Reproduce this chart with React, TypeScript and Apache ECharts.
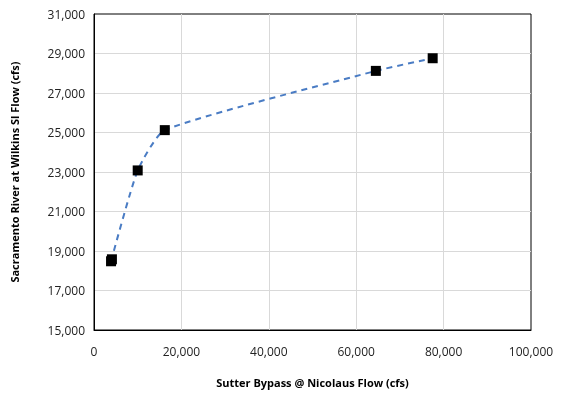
import React, { useEffect, useRef } from "react";
import * as echarts from "echarts";

const bypassFlow = [3900, 4100, 10000, 16200, 64500, 77500];
const wilkinsFlow = [18480, 18580, 23080, 25120, 28120, 28760];
const xTicksMax = 100000;
const yMin = 15000;
const yMax = 31000;

const fmt = (v: number) => v.toLocaleString("en-US");

export default function App() {
  const ref = useRef<HTMLDivElement>(null);
  useEffect(() => {
    if (!ref.current) return;
    const chart = echarts.init(ref.current, null, { renderer: "svg" });
    const pts = bypassFlow.map((x, i) => [x, wilkinsFlow[i]]);
    const linePts = [pts[0], ...pts.slice(2)];
    chart.setOption({
      animation: false,
      textStyle: { fontFamily: "Open Sans, Liberation Sans, sans-serif" },
      grid: {
        left: 94,
        right: 36,
        top: 14,
        bottom: 71,
        show: true,
        borderColor: "#000",
        borderWidth: 1,
      },
      xAxis: {
        type: "value",
        min: 0,
        max: xTicksMax,
        interval: 20000,
        name: "Sutter Bypass @ Nicolaus Flow (cfs)",
        nameLocation: "middle",
        nameGap: 47,
        nameTextStyle: { fontWeight: "bold", fontSize: 11, color: "#000" },
        axisLine: { show: true, lineStyle: { color: "#000" } },
        axisTick: { show: false },
        axisLabel: { formatter: fmt, fontSize: 12, color: "#222", margin: 15 },
        splitLine: { show: true, showMinLine: false, showMaxLine: false, lineStyle: { color: "#d9d9d9" } },
      },
      yAxis: {
        type: "value",
        min: yMin,
        max: yMax,
        interval: 2000,
        name: "Sacramento River at Wilkins Sl Flow (cfs)",
        nameLocation: "middle",
        nameGap: 74,
        nameTextStyle: { fontWeight: "bold", fontSize: 11, color: "#000" },
        axisLine: { show: true, lineStyle: { color: "#000" } },
        axisTick: { show: false },
        axisLabel: { formatter: fmt, fontSize: 12, color: "#222", margin: 9 },
        splitLine: { show: true, showMinLine: false, showMaxLine: false, lineStyle: { color: "#d9d9d9" } },
      },
      series: [
        {
          type: "line",
          data: linePts,
          smooth: 0.18,
          showSymbol: false,
          symbol: "none",
          lineStyle: { color: "#4a7cc4", width: 2, type: [6, 5] },
          z: 2,
        },
        {
          type: "scatter",
          data: pts,
          symbol: "rect",
          symbolSize: 10,
          itemStyle: { color: "#000", opacity: 1 },
          z: 3,
        },
      ],
    });
    return () => chart.dispose();
  }, []);
  return (
    <div
      ref={ref}
      style={{ position: "fixed", left: 0, top: 0, width: 567, height: 401 }}
    />
  );
}
